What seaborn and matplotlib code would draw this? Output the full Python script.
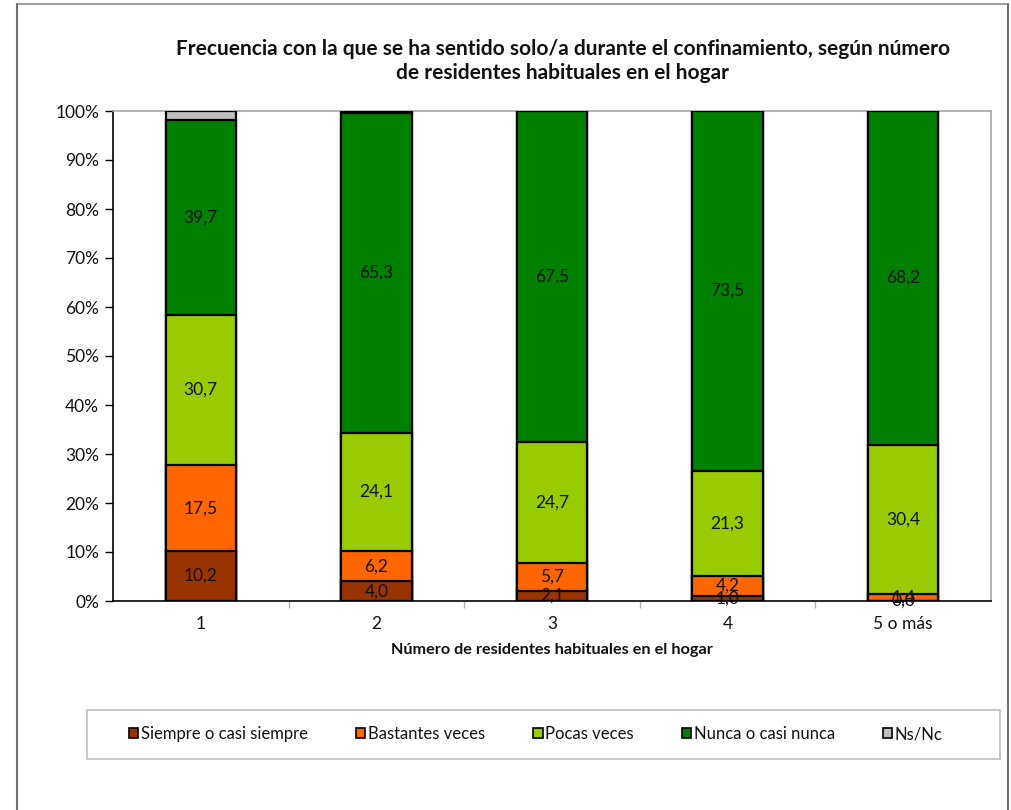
import numpy as np
import pandas as pd
import matplotlib
matplotlib.use("Agg")
import matplotlib.pyplot as plt
import seaborn as sns
from matplotlib.patches import Patch, Rectangle
from matplotlib.lines import Line2D
from matplotlib.ticker import PercentFormatter, MultipleLocator, FixedLocator

sns.set_theme(style="white")
plt.rcParams['font.family'] = ['Lato', 'DejaVu Sans']

categories = ["1", "2", "3", "4", "5 o más"]
series_names = ["Siempre o casi siempre", "Bastantes veces", "Pocas veces",
                "Nunca o casi nunca", "Ns/Nc"]
siempre = [10.2, 4.0, 2.1, 1.0, 0.0]
bastantes = [17.5, 6.2, 5.7, 4.2, 1.4]
pocas = [30.7, 24.1, 24.7, 21.3, 30.4]
nunca = [39.7, 65.3, 67.5, 73.5, 68.2]
nsnc = [1.9, 0.4, 0.0, 0.0, 0.0]
colors = ["#993300", "#FF6600", "#99CC00", "#008000", "#C0C0C0"]
labelled = [True, True, True, True, False]

title = "Frecuencia con la que se ha sentido solo/a durante el confinamiento, según número\nde residentes habituales en el hogar"
xlabel = "Número de residentes habituales en el hogar"

series = [siempre, bastantes, pocas, nunca, nsnc]
cum = np.cumsum(np.array(series), axis=0)

W, H = 1012, 810
fig = plt.figure(figsize=(W / 100, H / 100), dpi=100)
ax = fig.add_axes([113 / W, 1 - 601 / H, (991 - 113) / W, (601 - 111) / H])

# draw stacked bars back-to-front using cumulative totals
for i in range(len(series) - 1, -1, -1):
    df = pd.DataFrame({"cat": categories, "val": cum[i]})
    sns.barplot(data=df, x="cat", y="val", order=categories, color=colors[i],
                width=0.4, edgecolor="black", linewidth=1.6, saturation=1,
                ax=ax, zorder=2 + (len(series) - i))

# data labels at segment centres
for i, vals in enumerate(series):
    if not labelled[i]:
        continue
    for j, v in enumerate(vals):
        base = cum[i][j] - v
        ax.text(j, base + v / 2, f"{v:.1f}".replace(".", ","), ha="center",
                va="center", fontsize=12.5, color="#111111", zorder=20)

ax.set_xlim(-0.5, 4.5)
ax.set_ylim(0, 100)
ax.yaxis.set_major_locator(MultipleLocator(10))
ax.yaxis.set_major_formatter(PercentFormatter(decimals=0))
ax.tick_params(axis="y", which="major", direction="out", length=6, width=1,
               color="black", left=True, labelsize=12.5, labelcolor="#111111", pad=4)
ax.tick_params(axis="x", which="major", length=0, labelsize=12.5,
               labelcolor="#111111", pad=11)
ax.xaxis.set_minor_locator(FixedLocator([0.5, 1.5, 2.5, 3.5]))
ax.tick_params(axis="x", which="minor", direction="out", length=5, width=1,
               color="#B0B0B0", bottom=True)
ax.set_xlabel(xlabel, fontsize=11.7, fontweight="bold", color="#111111", labelpad=8)
ax.set_ylabel("")
for s in ["left", "bottom"]:
    ax.spines[s].set_color("black")
    ax.spines[s].set_linewidth(1.2)
for s in ["top", "right"]:
    ax.spines[s].set_color("#A6A6A6")
    ax.spines[s].set_linewidth(1.2)
ax.spines["bottom"].set_zorder(30)

fig.text(563 / W, 1 - 61 / H, title, ha="center", va="center", fontsize=15,
         fontweight="bold", color="#111111", linespacing=1.2)

# legend
handles = [Patch(facecolor=c, edgecolor="black", linewidth=1.2) for c in colors]
fig.legend(handles, series_names, loc="center", bbox_to_anchor=(536 / W, 1 - 734 / H),
           ncol=5, frameon=False, fontsize=12, handlelength=0.55, handleheight=0.55,
           handletextpad=0.15, columnspacing=2.9, labelcolor="#111111")
fig.add_artist(Rectangle((87 / W, 1 - 759 / H), (1000 - 87) / W, (759 - 710) / H,
                         transform=fig.transFigure, fill=False,
                         edgecolor="#BFBFBF", linewidth=1.2))

# outer chart frame
fig.add_artist(Line2D([17 / W, 1008 / W], [1 - 4 / H, 1 - 4 / H],
                      transform=fig.transFigure, color="#A0A0A0", linewidth=1.5))
fig.add_artist(Line2D([17 / W, 17 / W], [0, 1 - 4 / H],
                      transform=fig.transFigure, color="#707070", linewidth=1.5))
fig.add_artist(Line2D([1008 / W, 1008 / W], [0, 1 - 4 / H],
                      transform=fig.transFigure, color="#707070", linewidth=1.5))

fig.savefig("out.png", dpi=100)
